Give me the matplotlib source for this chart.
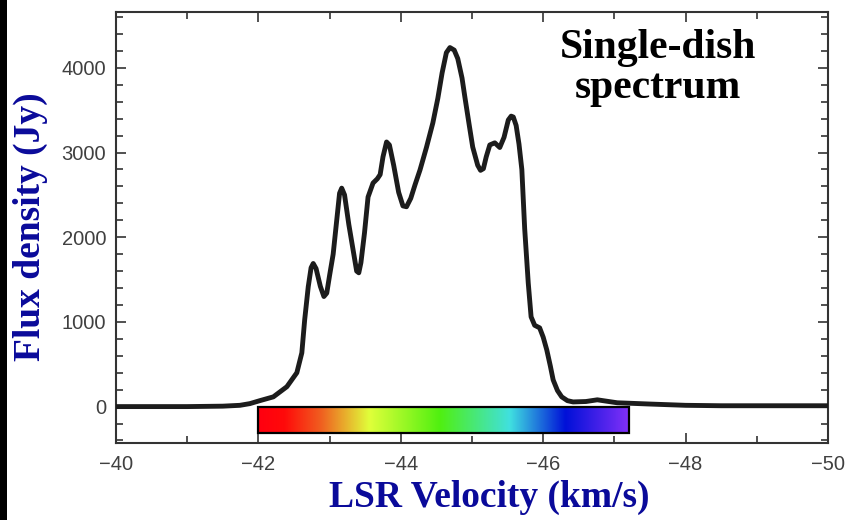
import numpy as np
import matplotlib
matplotlib.use("Agg")
import matplotlib.pyplot as plt
from matplotlib.colors import LinearSegmentedColormap
from matplotlib.patches import Rectangle

# spectrum: velocity (km/s) and flux density (Jy)
velocity = [-40.0, -40.5, -41.0, -41.5, -41.74, -41.88, -42.02, -42.21, -42.40,
            -42.54, -42.61, -42.65, -42.70, -42.74, -42.77, -42.81, -42.87,
            -42.92, -42.96, -43.00, -43.05, -43.10, -43.14, -43.17, -43.21,
            -43.27, -43.33, -43.38, -43.41, -43.44, -43.49, -43.54, -43.61,
            -43.67, -43.71, -43.75, -43.80, -43.84, -43.90, -43.97, -44.03,
            -44.08, -44.14, -44.20, -44.27, -44.36, -44.45, -44.52, -44.58,
            -44.64, -44.69, -44.75, -44.80, -44.86, -44.90, -44.96, -45.01,
            -45.08, -45.12, -45.16, -45.20, -45.25, -45.32, -45.39, -45.45,
            -45.51, -45.55, -45.58, -45.62, -45.66, -45.70, -45.74, -45.79,
            -45.83, -45.88, -45.95, -46.00, -46.05, -46.10, -46.14, -46.20,
            -46.26, -46.34, -46.42, -46.60, -46.76, -47.04, -47.50, -48.0,
            -48.5, -49.0, -49.5, -50.0]
flux = [0, 0, 0, 5, 15, 35, 70, 115, 235,
        400, 635, 1025, 1415, 1640, 1690, 1630, 1420,
        1300, 1340, 1550, 1800, 2200, 2520, 2580, 2500,
        2150, 1850, 1600, 1580, 1700, 2050, 2475, 2640,
        2690, 2740, 2950, 3125, 3090, 2850, 2530, 2370,
        2360, 2460, 2620, 2795, 3060, 3350, 3640, 3940,
        4180, 4240, 4210, 4110, 3880, 3655, 3330, 3065,
        2850, 2790, 2810, 2950, 3090, 3115, 3060, 3180,
        3385, 3430, 3420, 3320, 3100, 2800, 2100, 1460,
        1060, 960, 930, 820, 670, 480, 315, 190,
        115, 70, 55, 60, 80, 45, 30, 15,
        10, 10, 10, 10]

# velocity range covered by the colour bar
bar_start, bar_end = -42.0, -47.2
bar_colors = [(0.00, "#ff0010"), (0.07, "#ff0a0a"), (0.17, "#f06020"),
              (0.30, "#e0ff3a"), (0.49, "#50f010"), (0.68, "#40e0e0"),
              (0.83, "#0010d8"), (1.00, "#8030f8")]

fig = plt.figure(figsize=(8.48, 5.20), dpi=100)
ax = fig.add_axes([116 / 848, 77 / 520, 712 / 848, 431 / 520])

ax.plot(velocity, flux, color="#1c1c1c", linewidth=3.5,
        solid_joinstyle="round", solid_capstyle="round", zorder=3)

# rainbow velocity bar under the baseline
cmap = LinearSegmentedColormap.from_list("vel", bar_colors)
grad = np.linspace(0, 1, 256).reshape(1, -1)
ax.imshow(grad, cmap=cmap, aspect="auto", extent=[bar_start, bar_end, -310, -10],
          zorder=2, interpolation="bilinear")
ax.add_patch(Rectangle((bar_start, -310), bar_end - bar_start, 300, fill=False,
                       edgecolor="black", linewidth=1.6, zorder=4))

ax.set_xlim(-40, -50)
ax.set_ylim(-430, 4660)
ax.set_xticks([-40, -42, -44, -46, -48, -50])
ax.set_xticks(np.arange(-41, -50, -2), minor=True)
ax.set_yticks([0, 1000, 2000, 3000, 4000])
ax.set_yticks(np.arange(-400, 4601, 200), minor=True)

tick_font = {"family": "Liberation Sans", "size": 14.5}
ax.tick_params(which="both", direction="in", top=True, right=True,
               color="#333333", width=1.2, labelcolor="#404040")
ax.tick_params(which="major", length=7)
ax.tick_params(which="minor", length=5)
ax.tick_params(axis="x", pad=9)
ax.tick_params(axis="y", pad=7)
for lab in ax.get_xticklabels() + ax.get_yticklabels():
    lab.set_fontfamily(tick_font["family"])
    lab.set_fontsize(tick_font["size"])
for sp in ax.spines.values():
    sp.set_color("#333333")
    sp.set_linewidth(1.5)

label_font = dict(family="Liberation Serif", weight="bold", size=27, color="#0a0a9a")
fig.text(489 / 848, 1 - 497 / 520, "LSR Velocity (km/s)", ha="center", va="center",
         **label_font)
fig.text(30 / 848, 1 - 227 / 520, "Flux density (Jy)", ha="center", va="center",
         rotation=90, **label_font)

title_font = dict(family="Liberation Serif", weight="bold", size=30, color="black")
fig.text(658 / 848, 1 - 58 / 520, "Single-dish", ha="center", va="baseline", **title_font)
fig.text(658 / 848, 1 - 98 / 520, "spectrum", ha="center", va="baseline", **title_font)

# dark strip along the left edge of the original scan
fig.patches.append(Rectangle((0, 0), 7 / 848, 1, transform=fig.transFigure,
                             facecolor="black", edgecolor="none", figure=fig))

fig.savefig("out.png", dpi=100)
